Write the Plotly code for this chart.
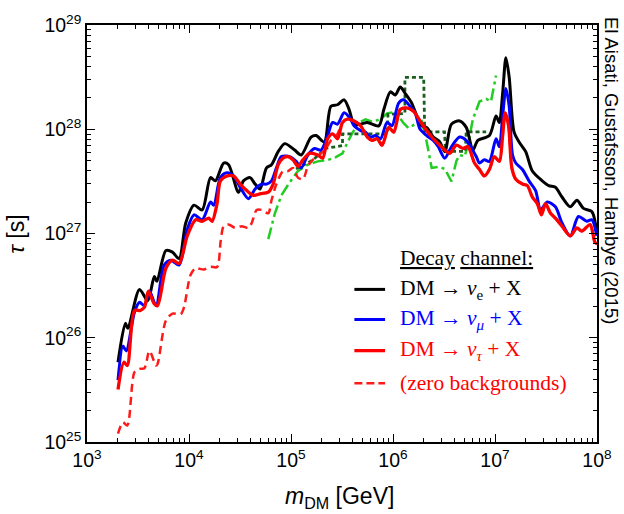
import numpy as np
import plotly.graph_objects as go

# ---- data: log10(m_DM / GeV) and log10(tau / s) ----
lm_e = [3.304, 3.376, 3.401, 3.515, 3.595, 3.660, 3.686, 3.774, 3.838, 3.903, 3.968, 4.049, 4.129,
        4.211, 4.259, 4.340, 4.388, 4.485, 4.534, 4.599, 4.648, 4.696, 4.760, 4.809, 4.874, 4.939,
        5.036, 5.100, 5.197, 5.246, 5.327, 5.391, 5.456, 5.521, 5.570, 5.618, 5.683, 5.748, 5.861,
        5.910, 5.974, 6.022, 6.071, 6.119, 6.184, 6.233, 6.282, 6.330, 6.395, 6.459, 6.508, 6.573,
        6.653, 6.718, 6.783, 6.832, 6.945, 7.010, 7.042, 7.075, 7.107, 7.139, 7.187, 7.236, 7.301,
        7.366, 7.463, 7.527, 7.592, 7.657, 7.738, 7.803, 7.867, 7.949, 7.998]
lt_e = [25.765, 26.138, 26.091, 26.464, 26.355, 26.588, 26.541, 26.837, 26.821, 26.759, 27.101,
        27.272, 27.226, 27.536, 27.505, 27.676, 27.660, 27.396, 27.505, 27.536, 27.474, 27.427,
        27.629, 27.660, 27.785, 27.862, 27.800, 27.753, 27.925, 27.940, 27.878, 28.220, 28.235,
        28.282, 28.189, 28.049, 28.049, 28.065, 28.033, 28.189, 28.359, 28.329, 28.406, 28.345,
        28.251, 28.126, 28.033, 28.018, 27.925, 27.878, 27.785, 28.049, 28.080, 28.018, 27.800,
        27.893, 27.940, 28.126, 28.065, 28.345, 28.686, 28.499, 27.972, 27.878, 27.785, 27.599,
        27.505, 27.459, 27.443, 27.350, 27.256, 27.319, 27.241, 27.210, 27.007]

lm_mu = [3.304, 3.352, 3.385, 3.466, 3.515, 3.563, 3.612, 3.677, 3.757, 3.822, 3.903, 3.983, 4.049,
         4.129, 4.211, 4.243, 4.308, 4.372, 4.437, 4.502, 4.583, 4.648, 4.712, 4.760, 4.809, 4.857,
         4.906, 4.987, 5.051, 5.100, 5.165, 5.230, 5.294, 5.359, 5.408, 5.456, 5.521, 5.585, 5.618,
         5.683, 5.731, 5.780, 5.828, 5.877, 5.942, 5.990, 6.055, 6.104, 6.168, 6.217, 6.265, 6.330,
         6.395, 6.444, 6.508, 6.573, 6.653, 6.718, 6.816, 6.848, 6.896, 6.945, 7.010, 7.042, 7.075,
         7.107, 7.139, 7.172, 7.204, 7.269, 7.333, 7.398, 7.447, 7.512, 7.592, 7.657, 7.738, 7.818,
         7.900, 7.949, 7.998]
lt_mu = [25.594, 25.920, 25.874, 26.247, 26.340, 26.308, 26.448, 26.308, 26.697, 26.744, 26.697,
         27.039, 27.179, 27.132, 27.303, 27.272, 27.536, 27.583, 27.552, 27.443, 27.334, 27.427,
         27.474, 27.474, 27.505, 27.629, 27.738, 27.738, 27.692, 27.629, 27.753, 27.816, 27.800,
         27.940, 28.065, 28.049, 28.158, 28.096, 28.033, 27.987, 27.972, 27.925, 27.940, 27.909,
         28.065, 28.033, 28.251, 28.282, 28.220, 28.158, 28.002, 27.940, 27.893, 27.832, 27.723,
         27.832, 27.925, 27.893, 27.738, 27.676, 27.707, 27.692, 27.909, 27.832, 28.126, 28.391,
         28.220, 27.753, 27.676, 27.614, 27.505, 27.412, 27.226, 27.303, 27.256, 27.101, 26.977,
         27.163, 27.117, 27.132, 26.977]

lm_tau = [3.304, 3.362, 3.395, 3.466, 3.524, 3.563, 3.602, 3.660, 3.692, 3.774, 3.838, 3.903, 3.983,
          4.065, 4.129, 4.194, 4.226, 4.275, 4.308, 4.372, 4.437, 4.502, 4.566, 4.631, 4.696, 4.777,
          4.825, 4.874, 4.922, 4.971, 5.019, 5.068, 5.117, 5.182, 5.262, 5.311, 5.359, 5.408, 5.456,
          5.505, 5.553, 5.618, 5.683, 5.748, 5.796, 5.845, 5.893, 5.958, 6.007, 6.071, 6.136, 6.201,
          6.265, 6.330, 6.395, 6.459, 6.508, 6.556, 6.621, 6.686, 6.735, 6.799, 6.848, 6.896, 6.945,
          6.993, 7.042, 7.075, 7.100, 7.133, 7.165, 7.204, 7.269, 7.317, 7.366, 7.415, 7.456, 7.495,
          7.544, 7.592, 7.657, 7.738, 7.803, 7.851, 7.932, 7.981, 8.007]
lt_tau = [25.504, 25.765, 25.734, 26.262, 26.262, 26.293, 26.448, 26.324, 26.308, 26.666, 26.744,
          26.713, 26.977, 27.132, 27.117, 27.147, 27.117, 27.287, 27.505, 27.552, 27.552, 27.474,
          27.412, 27.366, 27.381, 27.396, 27.474, 27.660, 27.723, 27.738, 27.707, 27.645, 27.707,
          27.769, 27.753, 27.723, 27.909, 27.956, 27.909, 28.065, 28.096, 28.080, 28.033, 27.925,
          27.893, 27.909, 27.847, 28.018, 27.972, 28.189, 28.205, 28.173, 28.080, 27.987, 27.909,
          27.847, 27.800, 27.769, 27.847, 27.816, 27.832, 27.676, 27.614, 27.552, 27.614, 27.738,
          27.692, 27.940, 28.158, 28.033, 27.629, 27.520, 27.474, 27.459, 27.350, 27.287, 27.179,
          27.287, 27.194, 27.147, 27.070, 26.977, 27.054, 27.023, 27.086, 26.914, 26.902]

# nu_tau, zero backgrounds (low-mass part; merges with the nu_tau curve above ~3e5 GeV)
lm_zero = [3.304, 3.352, 3.395, 3.466, 3.515, 3.563, 3.612, 3.677, 3.692, 3.774, 3.838, 3.919, 3.951,
           4.016, 4.065, 4.146, 4.211, 4.275, 4.311, 4.340, 4.388, 4.453, 4.517, 4.583, 4.615, 4.663,
           4.712, 4.777, 4.809, 4.857, 4.922, 4.971, 5.019, 5.068, 5.117, 5.165, 5.214, 5.294, 5.343,
           5.391, 5.456]
lt_zero = [25.081, 25.189, 25.158, 25.671, 25.702, 25.708, 25.874, 25.734, 25.749, 26.166, 26.231,
           26.226, 26.293, 26.604, 26.666, 26.655, 26.681, 26.678, 26.930, 27.070, 27.086, 27.054,
           27.070, 27.054, 27.101, 27.226, 27.226, 27.194, 27.319, 27.474, 27.599, 27.599, 27.629,
           27.536, 27.520, 27.645, 27.707, 27.769, 27.816, 27.893, 27.956]

# light-green dash-dot curve
lm_g = [4.777, 4.842, 4.906, 4.987, 5.068, 5.165, 5.262, 5.359, 5.440, 5.505, 5.553, 5.602, 5.667,
        5.731, 5.796, 5.877, 5.942, 6.007, 6.055, 6.104, 6.152, 6.217, 6.282, 6.330, 6.379, 6.444,
        6.508, 6.573, 6.621, 6.653, 6.702, 6.735, 6.783, 6.848, 6.913, 6.961, 7.010]
lt_g = [26.946, 27.194, 27.366, 27.490, 27.599, 27.660, 27.692, 27.704, 27.732, 27.769, 27.872,
        27.965, 28.065, 28.096, 28.072, 28.096, 28.151, 28.165, 28.124, 28.058, 28.012, 28.049,
        28.077, 27.881, 27.629, 27.639, 27.620, 27.499, 27.694, 27.753, 27.738, 27.847, 28.096,
        28.266, 28.291, 28.266, 28.515]

# dark-green dotted (step-like) curve
lm_d = [5.049, 5.214, 5.340, 5.505, 5.505, 5.942, 5.951, 6.117, 6.117, 6.301, 6.311, 6.505, 6.515,
        6.709, 6.718, 6.913]
lt_d = [27.620, 27.704, 27.816, 27.844, 27.956, 27.956, 28.142, 28.152, 28.497, 28.497, 27.974,
        27.974, 27.788, 27.788, 27.974, 27.974]

x_ticks = [3, 4, 5, 6, 7, 8]
y_ticks = [25, 26, 27, 28, 29]
x_tick_text = ["10<sup>%d</sup>" % k for k in x_ticks]
y_tick_text = ["10<sup>%d</sup>" % k for k in y_ticks]

# ---- build ----
def p10(a):
    return 10.0 ** np.asarray(a, dtype=float)

lm_tau_a = np.asarray(lm_tau)
lt_tau_a = np.asarray(lt_tau)
sel = lm_tau_a > lm_zero[-1]
lm_zero_full = np.concatenate([lm_zero, lm_tau_a[sel]])
lt_zero_full = np.concatenate([lt_zero, lt_tau_a[sel]])

fig = go.Figure()

def add(lm, lt, color, width, dash="solid", shape="spline"):
    line = dict(color=color, width=width, dash=dash, shape=shape)
    if shape == "spline":
        line["smoothing"] = 0.8
    fig.add_trace(go.Scatter(x=p10(lm), y=p10(lt), mode="lines", line=line,
                             showlegend=False, hoverinfo="skip"))

add(lm_g, lt_g, "#22cc22", 2.5, dash="12px,4px,3px,4px", shape="linear")
add(lm_d, lt_d, "#1b5e20", 2.8, dash="4px,3px", shape="linear")
add(lm_e, lt_e, "#000000", 3.0)
add(lm_mu, lt_mu, "#0000ff", 3.0)
add(lm_zero_full, lt_zero_full, "#ff1a1a", 2.5, dash="8px,5px")
add(lm_tau, lt_tau, "#ff0000", 3.3)

minor_x = [float(m) * 10.0 ** k for k in range(3, 8) for m in range(2, 10)]
minor_y = [float(m) * 10.0 ** k for k in range(25, 29) for m in range(2, 10)]

axis_common = dict(showgrid=False, zeroline=False, showline=True, linecolor="black", linewidth=1.6,
                   mirror="allticks", ticks="inside", ticklen=8, tickwidth=1.3, tickcolor="black",
                   tickfont=dict(family="Liberation Sans, Arial, sans-serif", size=19.5, color="black"))

fig.update_xaxes(type="log", range=[3, 8], tickvals=[10.0 ** k for k in x_ticks], ticktext=x_tick_text,
                 minor=dict(ticks="inside", ticklen=4, tickwidth=1, tickcolor="black", tickvals=minor_x,
                            showgrid=False),
                 **axis_common)
fig.update_yaxes(type="log", range=[25, 29], tickvals=[10.0 ** k for k in y_ticks], ticktext=y_tick_text,
                 minor=dict(ticks="inside", ticklen=4, tickwidth=1, tickcolor="black", tickvals=minor_y,
                            showgrid=False),
                 **axis_common)

L, R, T, B = 87, 22, 13, 72
W, H = 624, 514
pw, ph = W - L - R, H - T - B

def px(xp):
    return (xp - L) / pw

def py(yp):
    return (H - B - yp) / ph

serif = "Liberation Serif, Times New Roman, serif"
sans = "Liberation Sans, Arial, sans-serif"

ann = [
    dict(x=px(342), y=py(499), text="<i>m</i><sub>DM</sub> [GeV]", font=dict(family=sans, size=23, color="black")),
    dict(x=px(15), y=py(228), text="<i>τ</i> [s]", textangle=-90, font=dict(family=sans, size=23, color="black")),
    dict(x=px(616), y=py(163), text="El Aisati, Gustafsson, Hambye (2015)", textangle=90,
         font=dict(family=sans, size=18.5, color="black")),
    dict(x=px(401), y=py(253), text="<u>Decay</u> <u>channel:</u>", xanchor="left",
         font=dict(family=serif, size=21.5, color="black")),
    dict(x=px(401), y=py(285), text="DM → <i>ν</i><sub>e</sub> + X", xanchor="left",
         font=dict(family=serif, size=21.5, color="black")),
    dict(x=px(401), y=py(316), text="DM → <i>ν<sub>μ</sub></i> + X", xanchor="left",
         font=dict(family=serif, size=21.5, color="#0000ff")),
    dict(x=px(401), y=py(348), text="DM → <i>ν<sub>τ</sub></i> + X", xanchor="left",
         font=dict(family=serif, size=21.5, color="#ff0000")),
    dict(x=px(401), y=py(381), text="(zero backgrounds)", xanchor="left",
         font=dict(family=serif, size=21.5, color="#ff0000")),
]
for a in ann:
    a.setdefault("xanchor", "center")
    a.update(xref="paper", yref="paper", showarrow=False, yanchor="middle")

shapes = []
for yp, col, dash, w in [(285, "#000000", "solid", 3), (316, "#0000ff", "solid", 3),
                         (348, "#ff0000", "solid", 3.3), (381.5, "#ff1a1a", "8px,4px", 2.5)]:
    shapes.append(dict(type="line", xref="paper", yref="paper", x0=px(357), x1=px(388), y0=py(yp), y1=py(yp),
                       line=dict(color=col, width=w, dash=dash)))

fig.update_layout(width=W, height=H, margin=dict(l=L, r=R, t=T, b=B), plot_bgcolor="white",
                  paper_bgcolor="white", annotations=ann, shapes=shapes, showlegend=False)

fig.write_html("out.html")
